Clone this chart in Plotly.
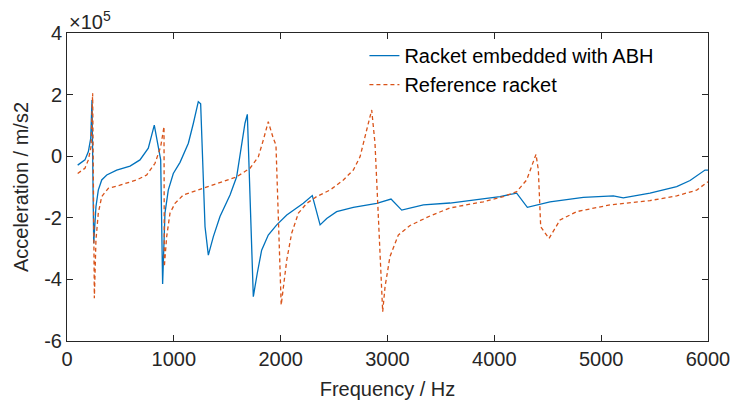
import plotly.graph_objects as go

# Frequencies (Hz) and accelerations (units of 1e5 m/s^2)
abh_freq = [100, 168, 200, 222, 234, 250, 271, 293, 325, 372, 465, 590, 683, 761, 817, 877, 895, 917,
            948, 995, 1058, 1136, 1183, 1229, 1251, 1292, 1323, 1370, 1432, 1526, 1588, 1635, 1666,
            1688, 1744, 1781, 1822, 1884, 1963, 2057, 2150, 2212, 2296, 2369, 2431, 2524, 2680, 2899,
            3033, 3117, 3133, 3336, 3585, 4053, 4209, 4309, 4521, 4833, 5114, 5207, 5457, 5707, 5832,
            5972, 6000]
abh_acc = [-0.29, -0.12, 0.15, 0.58, 1.82, -2.83, -1.64, -1.1, -0.77, -0.61, -0.45, -0.32, -0.12, 0.26,
           1.01, -0.12, -4.15, -1.85, -1.1, -0.56, -0.2, 0.42, 1.07, 1.77, 1.7, -2.29, -3.21, -2.61,
           -1.96, -1.26, -0.67, 0.31, 1.07, 1.36, -4.56, -3.8, -3.05, -2.56, -2.23, -1.91, -1.69,
           -1.53, -1.28, -2.23, -2.02, -1.8, -1.66, -1.53, -1.39, -1.72, -1.75, -1.58, -1.52, -1.31,
           -1.2, -1.66, -1.48, -1.34, -1.29, -1.35, -1.2, -0.99, -0.79, -0.45, -0.45]

ref_freq = [100, 168, 200, 225, 240, 256, 271, 293, 325, 387, 496, 652, 746, 824, 877, 908, 911, 933,
            964, 1011, 1089, 1276, 1463, 1588, 1713, 1791, 1838, 1884, 1931, 1956, 2005, 2025, 2057,
            2103, 2166, 2244, 2337, 2462, 2587, 2680, 2743, 2805, 2852, 2883, 2955, 2977, 3023, 3101,
            3211, 3398, 3585, 3897, 4084, 4209, 4303, 4390, 4412, 4434, 4512, 4615, 4771, 5083, 5457,
            5707, 5894, 6000]
ref_acc = [-0.56, -0.39, -0.12, 0.31, 2.04, -4.61, -2.72, -1.85, -1.31, -1.04, -0.94, -0.77, -0.61,
           -0.23, 0.31, 0.96, -3.59, -2.61, -1.85, -1.53, -1.26, -1.04, -0.83, -0.67, -0.39, -0.02,
           0.53, 1.12, 0.58, 0.36, -4.83, -4.24, -3.37, -2.5, -1.85, -1.53, -1.31, -1.1, -0.77, -0.45,
           -0.02, 0.85, 1.5, 0.42, -5.05, -4.24, -3.26, -2.56, -2.25, -1.94, -1.68, -1.48, -1.31,
           -1.15, -0.77, 0.06, -0.45, -2.29, -2.67, -2.07, -1.8, -1.58, -1.44, -1.29, -1.1, -0.83]

x_ticks = [0, 1000, 2000, 3000, 4000, 5000, 6000]
y_ticks = [-6, -4, -2, 0, 2, 4]
scale = 1e5

font = "Liberation Sans, Arial, sans-serif"

fig = go.Figure()
fig.add_trace(go.Scatter(x=abh_freq, y=[v * scale for v in abh_acc], mode="lines",
                         name="Racket embedded with ABH",
                         line=dict(color="#0072BD", width=1.3)))
fig.add_trace(go.Scatter(x=ref_freq, y=[v * scale for v in ref_acc], mode="lines",
                         name="Reference racket",
                         line=dict(color="#D95319", width=1.3, dash="4px,3px")))

axis_common = dict(showline=True, linecolor="#262626", linewidth=1, mirror="ticks",
                   ticks="inside", ticklen=6, tickcolor="#262626", showgrid=False,
                   zeroline=False, automargin=False,
                   tickfont=dict(family=font, size=20, color="#262626"))

fig.update_xaxes(range=[0, 6000], tickvals=x_ticks, ticktext=[str(t) for t in x_ticks],
                 title=dict(text="Frequency / Hz", font=dict(family=font, size=20, color="#262626"),
                            standoff=12),
                 **axis_common)
fig.update_yaxes(range=[-6 * scale, 4 * scale], tickvals=[t * scale for t in y_ticks],
                 ticktext=[str(t) for t in y_ticks],
                 title=dict(text="Acceleration / m/s2", font=dict(family=font, size=20, color="#262626"),
                            standoff=10),
                 **axis_common)

fig.add_annotation(text="×10<sup>5</sup>", xref="paper", yref="paper", x=0, y=1,
                   xanchor="left", yanchor="bottom", showarrow=False,
                   font=dict(family=font, size=20, color="#262626"), yshift=-2)

fig.update_layout(
    width=734, height=408,
    margin=dict(l=67, r=26, t=33, b=67, autoexpand=False),
    paper_bgcolor="white", plot_bgcolor="white",
    font=dict(family=font, size=20, color="#262626"),
    legend=dict(x=0.464, y=0.99, xanchor="left", yanchor="top", bgcolor="rgba(0,0,0,0)",
                font=dict(family=font, size=20, color="#000000"), tracegroupgap=0,
                itemwidth=30),
    showlegend=True,
)

fig.write_html("out.html")
